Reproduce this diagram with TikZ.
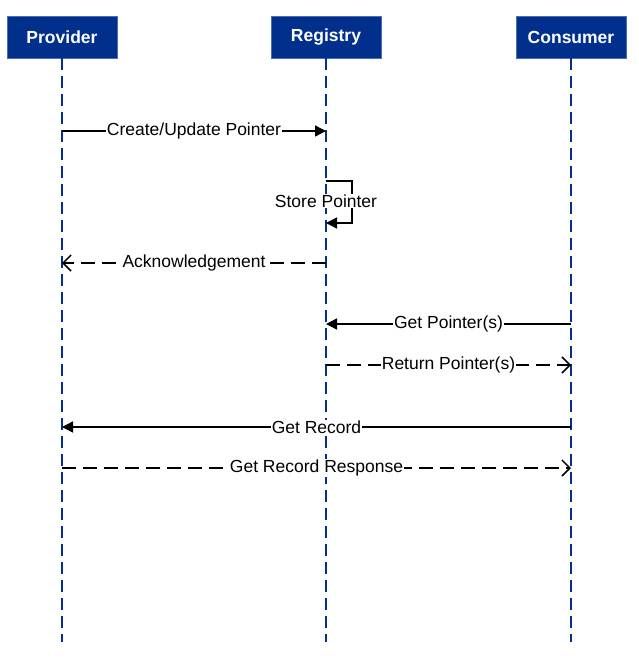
\documentclass[tikz,border=0pt]{standalone}
\usepackage{fontspec}
\setmainfont{Liberation Sans}
\usetikzlibrary{arrows.meta}
\definecolor{boxblue}{HTML}{00308C}
\begin{document}
\begin{tikzpicture}[x=1pt,y=-1pt,
  actor/.style={draw=boxblue!70!white,fill=boxblue,text=white,font=\bfseries\fontsize{17.5}{20}\selectfont,minimum width=110pt,minimum height=42pt,inner sep=0pt},
  life/.style={draw=boxblue,line width=1.5pt,dash pattern=on 12pt off 6pt},
  msg/.style={draw=black,line width=1.5pt,-{Triangle[length=11pt,width=11pt]}},
  reply/.style={draw=black,line width=1.5pt,dash pattern=on 14pt off 7pt,-{Straight Barb[length=8pt,width=16pt]}},
  lbl/.style={fill=white,inner sep=1pt,font=\fontsize{17.5}{20}\selectfont}]
\useasboundingbox (0,0) rectangle (638,659);
\node[actor] (P) at (62,37) {Provider};
\node[actor] (R) at (326,37) {Registry};
\node[actor] (C) at (571,37) {Consumer};
\coordinate (Pe) at (62,642);
\coordinate (Re) at (326,642);
\coordinate (Ce) at (571,642);
\draw[life] (P.south) -- (Pe);
\draw[life] (R.south) -- (Re);
\draw[life] (C.south) -- (Ce);
% messages
\coordinate (p1) at (62,131); \coordinate (r1) at (326,131);
\draw[msg] (p1) -- node[lbl]{Create/Update Pointer} (r1);
\coordinate (s1) at (326,181); \coordinate (s2) at (326,223);
\draw[msg] (s1) -- ++(26,0) |- (s2);
\node[lbl] (sp) at (326,201) {Store Pointer};
\coordinate (r2) at (326,263); \coordinate (p2) at (62,263);
\draw[reply] (r2) -- node[lbl]{Acknowledgement} (p2);
\coordinate (c3) at (571,324); \coordinate (r3) at (326,324);
\draw[msg] (c3) -- node[lbl]{Get Pointer(s)} (r3);
\coordinate (r4) at (326,365); \coordinate (c4) at (571,365);
\draw[reply] (r4) -- node[lbl]{Return Pointer(s)} (c4);
\coordinate (c5) at (571,427); \coordinate (p5) at (62,427);
\draw[msg] (c5) -- node[lbl]{Get Record} (p5);
\coordinate (p6) at (62,468); \coordinate (c6) at (571,468);
\draw[reply] (p6) -- node[lbl]{Get Record Response} (c6);
\end{tikzpicture}
\end{document}
